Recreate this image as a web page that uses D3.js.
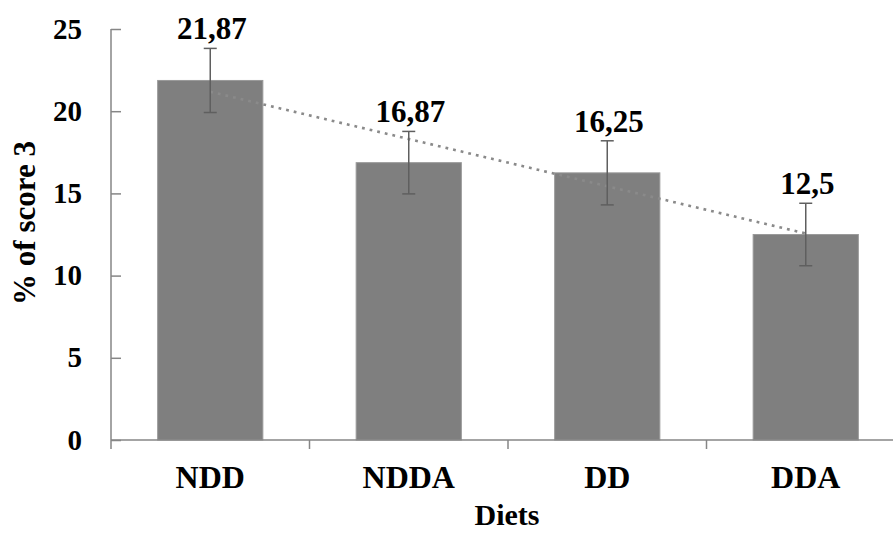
<!DOCTYPE html>
<html>
<head>
<meta charset="utf-8">
<script src="https://cdn.jsdelivr.net/npm/d3@7"></script>
<style>
  html, body { margin: 0; padding: 0; background: #fff; }
  svg { display: block; }
  text { font-family: "Liberation Serif", "Times New Roman", serif; font-weight: bold; fill: #000; }
</style>
</head>
<body>
<svg id="chart" width="893" height="534"></svg>
<script>
// ---- data ----
const categories = ["NDD", "NDDA", "DD", "DDA"];
const values = [21.87, 16.87, 16.25, 12.5];
const valueLabels = ["21,87", "16,87", "16,25", "12,5"];
const errors = [1.95, 1.9, 1.95, 1.9];
const yTicks = [0, 5, 10, 15, 20, 25];
const xTitle = "Diets";
const yTitle = "% of score 3";

// ---- layout ----
const svg = d3.select("#chart");
const mLeft = 111, mRight = 905, mTop = 29, mBottom = 440;

const x = d3.scaleBand().domain(categories).range([mLeft, mRight])
  .paddingInner(0.47).paddingOuter(0.235);
const y = d3.scaleLinear().domain([0, 25]).range([mBottom, mTop]);

const axisColor = "#868686";

// bars
svg.append("g").selectAll("rect").data(categories).join("rect")
  .attr("x", d => x(d))
  .attr("y", (d, i) => y(values[i]))
  .attr("width", x.bandwidth())
  .attr("height", (d, i) => y(0) - y(values[i]))
  .attr("fill", "#7f7f7f")
  .attr("stroke", "#9a9a9a")
  .attr("stroke-width", 1);

// trendline (linear regression of values)
const n = values.length;
const xs = d3.range(n);
const mx = d3.mean(xs), my = d3.mean(values);
const slope = d3.sum(xs, i => (i - mx) * (values[i] - my)) / d3.sum(xs, i => (i - mx) ** 2);
const intercept = my - slope * mx;
const cx = i => x(categories[i]) + x.bandwidth() / 2;
svg.append("line")
  .attr("x1", cx(0)).attr("y1", y(intercept))
  .attr("x2", cx(n - 1)).attr("y2", y(intercept + slope * (n - 1)))
  .attr("stroke", "#8a8a8a")
  .attr("stroke-width", 2.6)
  .attr("stroke-dasharray", "2.8,5");

// error bars
const eb = svg.append("g").attr("stroke", "#5f5f5f").attr("stroke-width", 1.5);
categories.forEach((c, i) => {
  const xc = cx(i);
  const y1 = y(values[i] + errors[i]), y2 = y(values[i] - errors[i]);
  eb.append("line").attr("x1", xc).attr("x2", xc).attr("y1", y1).attr("y2", y2);
  eb.append("line").attr("x1", xc - 6.5).attr("x2", xc + 6.5).attr("y1", y1).attr("y2", y1);
  eb.append("line").attr("x1", xc - 6.5).attr("x2", xc + 6.5).attr("y1", y2).attr("y2", y2);
});

// value labels
svg.append("g").selectAll("text").data(categories).join("text")
  .attr("x", (d, i) => cx(i) + 1.5)
  .attr("y", (d, i) => y(values[i]) - 41)
  .attr("text-anchor", "middle")
  .style("font-size", "31px")
  .text((d, i) => valueLabels[i]);

// y axis
const yAxis = d3.axisRight(y).tickValues(yTicks).tickSize(10).tickFormat("");
const gy = svg.append("g").attr("transform", `translate(${mLeft},0)`).call(yAxis);
gy.select(".domain").remove();
gy.selectAll(".tick line").attr("stroke", axisColor).attr("stroke-width", 1.5);
svg.append("line").attr("x1", mLeft).attr("x2", mLeft).attr("y1", mTop).attr("y2", mBottom + 9)
  .attr("stroke", axisColor).attr("stroke-width", 1.5);
svg.append("g").selectAll("text").data(yTicks).join("text")
  .attr("x", 82)
  .attr("y", d => y(d))
  .attr("dy", "0.33em")
  .attr("text-anchor", "end")
  .style("font-size", "29px")
  .text(d => d);

// x axis
svg.append("line").attr("x1", mLeft).attr("x2", mRight).attr("y1", mBottom).attr("y2", mBottom)
  .attr("stroke", axisColor).attr("stroke-width", 1.5);
const bounds = d3.range(1, n + 1).map(i => mLeft + i * x.step());
svg.append("g").selectAll("line").data(bounds).join("line")
  .attr("x1", d => d).attr("x2", d => d)
  .attr("y1", mBottom).attr("y2", mBottom + 9)
  .attr("stroke", axisColor).attr("stroke-width", 1.5);
svg.append("g").selectAll("text").data(categories).join("text")
  .attr("x", d => x(d) + x.bandwidth() / 2)
  .attr("y", 488)
  .attr("text-anchor", "middle")
  .style("font-size", "32px")
  .text(d => d);

// axis titles
svg.append("text")
  .attr("x", 507).attr("y", 525)
  .attr("text-anchor", "middle")
  .style("font-size", "30px")
  .text(xTitle);
svg.append("text")
  .attr("transform", "translate(35,223) rotate(-90)")
  .attr("text-anchor", "middle")
  .style("font-size", "31px")
  .text(yTitle);
</script>
</body>
</html>
